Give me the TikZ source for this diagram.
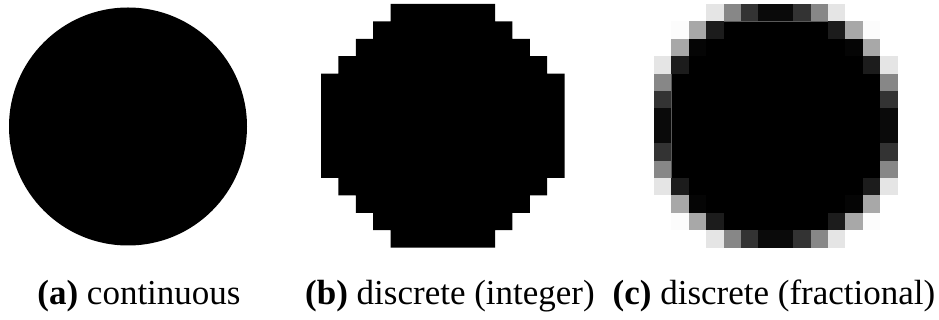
\documentclass[tikz,border=0pt]{standalone}
\usepackage{fontspec}
\setmainfont{Liberation Serif}

\begin{document}
\begin{tikzpicture}[x=0.5pt, y=-0.5pt,
    caption/.style={anchor=base, inner sep=0pt, font=\fontsize{17.5}{21}\selectfont},
    pixels/.style={x=8.7pt, y=-8.7pt}]
\useasboundingbox (0,0) rectangle (939,320);

% (a) the disc itself
\fill[black] (128,126.5) circle[radius=119];

% (b) whole pixels only -- one path, so no seams between rows
\begin{scope}[shift={(321,4)}, pixels]
  \fill[black] \foreach \r/\s in {0/4,1/3,2/2,3/1,4/0,5/0,6/0,7/0,8/0,9/0,10/1,11/2,12/3,13/4}
    {(\s,\r) rectangle (14-\s,\r+1)};
\end{scope}

% (c) covered pixels black, edge pixels grey by coverage
\begin{scope}[shift={(654,4)}, pixels]
  \fill[black] \foreach \r/\s in {1/4,2/3,3/2,4/1,5/1,6/1,7/1,8/1,9/1,10/2,11/3,12/4}
    {(\s,\r) rectangle (14-\s,\r+1)};
  % one quadrant, mirrored four ways
  \foreach \c/\r/\k in {3/0/10,4/0/47,5/0/80,6/0/96,1/1/1,2/1/34,3/1/89,
                        1/2/34,2/2/98,0/3/10,1/3/89,0/4/47,0/5/80,0/6/96}
    \foreach \cc/\rr in {\c/\r, 13-\c/\r, \c/13-\r, 13-\c/13-\r}
      \fill[black!\k] (\cc,\rr) rectangle ++(1,1);
\end{scope}

\node[caption] (capA) at (139,305) {\textbf{(a)} continuous};
\node[caption] (capB) at (450,305) {\textbf{(b)} discrete (integer)};
\node[caption] (capC) at (774,305) {\textbf{(c)} discrete (fractional)};
\end{tikzpicture}
\end{document}
